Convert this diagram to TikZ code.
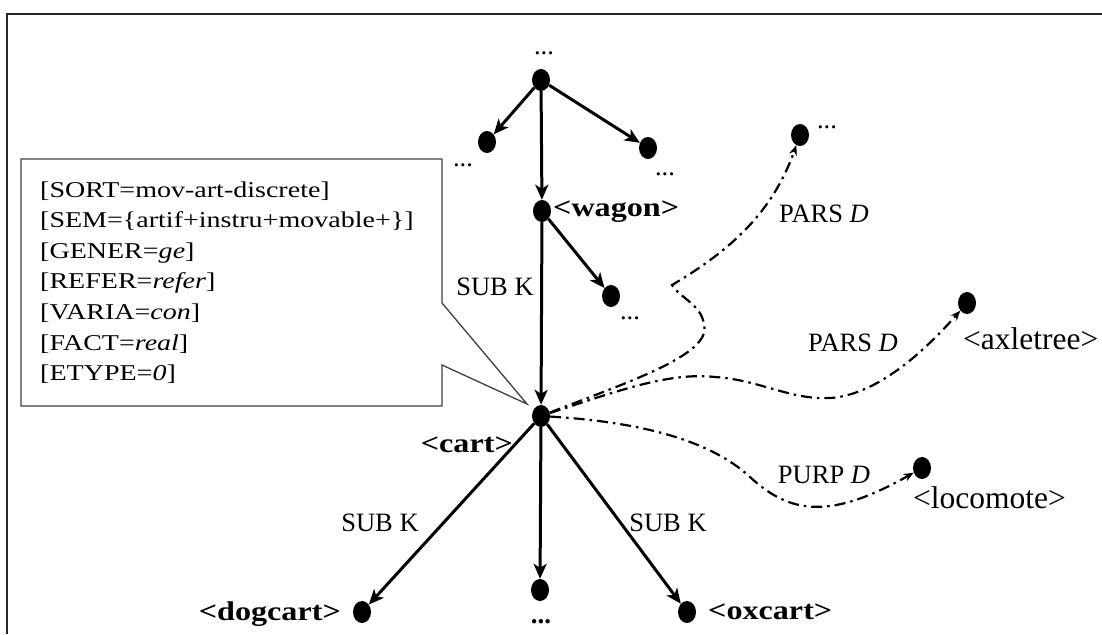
\documentclass[tikz,border=0pt]{standalone}
\usepackage{fontspec}
\setmainfont{Liberation Serif}
\usepackage{graphicx}
\usetikzlibrary{arrows.meta,shapes.geometric}
\newcommand\xs[2]{\scalebox{#1}[1]{#2}}
\begin{document}
\begin{tikzpicture}[x=1pt,y=-1pt,
  dot/.style={ellipse, fill=black, minimum width=18pt, minimum height=22pt, inner sep=0pt},
  arr/.style={line width=3pt, -{Stealth[length=15pt,width=13pt,inset=4pt]}},
  dd/.style={line width=2.2pt, dash pattern=on 11pt off 5pt on 2.5pt off 5pt, -{Stealth[length=10pt,width=8pt]}},
  lab/.style={font=\fontsize{26.5}{30}\selectfont, inner sep=0pt},
  blab/.style={font=\fontsize{27}{30}\selectfont\bfseries, inner sep=0pt},
  big/.style={font=\fontsize{31.5}{34}\selectfont, inner sep=0pt},
  attr/.style={font=\fontsize{22.6}{26}\selectfont, inner sep=0pt, anchor=base west},
  callout/.style={line width=1.3pt, draw=black!75, fill=white},
  frame/.style={line width=2pt, draw=black!85}
]
\useasboundingbox (0,0) rectangle (1102,634);
% frame
\draw[frame] (7,634) -- (7,14) -- (1102,14);
% callout box
\coordinate (tip) at (527,404);
\draw[callout] (21,159) -- (442,159) -- (442,303) -- (tip) -- (442,365) -- (442,406) -- (21,406) -- cycle;
\node[attr] (a1) at (40,197) {\xs{1.24}{[SORT=mov-art-discrete]}};
\node[attr] (a2) at (40,227.6) {\xs{1.24}{[SEM=\{artif+instru+movable+\}]}};
\node[attr] (a3) at (40,258.2) {\xs{1.24}{[GENER=\textit{ge}]}};
\node[attr] (a4) at (40,288.8) {\xs{1.24}{[REFER=\textit{refer}]}};
\node[attr] (a5) at (40,319.4) {\xs{1.24}{[VARIA=\textit{con}]}};
\node[attr] (a6) at (40,350) {\xs{1.24}{[FACT=\textit{real}]}};
\node[attr] (a7) at (40,380.6) {\xs{1.24}{[ETYPE=\textit{0}]}};
% dots
\node[dot] (top) at (541,80) {};
\node[dot] (lc) at (487,142) {};
\node[dot] (rc) at (648,148) {};
\node[dot] (wagon) at (542,211) {};
\node[dot] (wc) at (611,296) {};
\node[dot] (cart) at (541,416) {};
\node[dot] (pt) at (800,135) {};
\node[dot] (axle) at (967,303) {};
\node[dot] (loco) at (922,468) {};
\node[dot] (dog) at (362,612) {};
\node[dot] (mid) at (540,590) {};
\node[dot] (ox) at (687,612) {};
% ellipsis labels
\node[lab, anchor=base] (d1) at (544,55) {...};
\node[lab, anchor=base] (d2) at (463,166) {...};
\node[lab, anchor=base] (d3) at (665,175) {...};
\node[lab, anchor=base] (d4) at (630,319) {...};
\node[lab, anchor=base] (d5) at (827,128) {...};
\node[blab, anchor=base] (d6) at (541,623) {...};
% names
\node[blab, anchor=base west] (lw) at (553,216) {\xs{1.19}{<wagon>}};
\node[blab, anchor=base east] (lcart) at (513,452) {\xs{1.19}{<cart>}};
\node[blab, anchor=base east] (ldog) at (341,620) {\xs{1.19}{<dogcart>}};
\node[blab, anchor=base west] (lox) at (708,619) {\xs{1.19}{<oxcart>}};
\node[big, anchor=base west] (lax) at (963,349) {<axletree>};
\node[big, anchor=base west] (lloc) at (913,508) {<locomote>};
% relation labels
\node[lab, anchor=base] (s1) at (495,295) {SUB K};
\node[lab, anchor=base] (s2) at (380,531) {SUB K};
\node[lab, anchor=base] (s3) at (668,531) {SUB K};
\node[lab, anchor=base] (p1) at (824,222) {PARS \textit{D}};
\node[lab, anchor=base] (p2) at (853,351) {PARS \textit{D}};
\node[lab, anchor=base] (p3) at (824,483) {PURP \textit{D}};
% solid arrows
\draw[arr] (top) -- (lc);
\draw[arr] (top) -- (wagon);
\draw[arr] (top) -- (rc);
\draw[arr] (wagon) -- (wc);
\draw[arr] (wagon) -- (cart);
\draw[arr] (cart) -- (dog);
\draw[arr] (cart) -- (mid);
\draw[arr] (cart) -- (ox);
% dash-dot curves
\coordinate (k1) at (704,325);
\coordinate (k2) at (672,285);
\draw[dd] (cart) .. controls (625,383) and (712,355) .. (k1) .. controls (702,305) and (680,298) .. (k2) .. controls (740,245) and (775,205) .. (pt);
\coordinate (m1) at (715,377);
\coordinate (m2) at (830,398);
\draw[dd] (cart) .. controls (620,390) and (670,372) .. (m1) .. controls (760,380) and (790,400) .. (m2) .. controls (880,395) and (930,345) .. (axle);
\coordinate (n1) at (750,477);
\draw[dd] (cart) .. controls (640,422) and (710,440) .. (n1) .. controls (790,514) and (830,520) .. (loco);
\end{tikzpicture}
\end{document}
